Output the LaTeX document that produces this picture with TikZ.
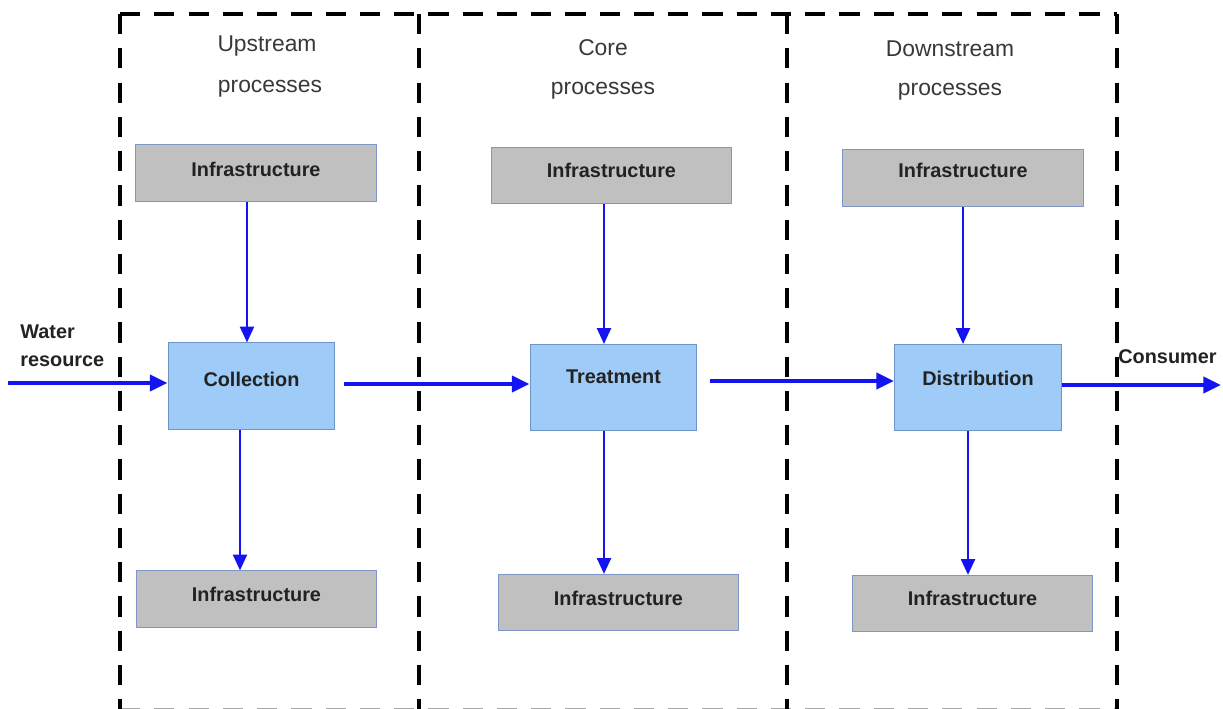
\documentclass[tikz,border=0pt]{standalone}
\usepackage{fontspec}
\setmainfont{Liberation Sans}
\usetikzlibrary{arrows.meta}
\definecolor{txt}{HTML}{222222}
\definecolor{infrafill}{HTML}{C0C0C0}
\definecolor{infraedge}{HTML}{7F97C8}
\definecolor{procfill}{HTML}{9FCBF8}
\definecolor{procedge}{HTML}{6F93C4}
\definecolor{arrowblue}{HTML}{1414F0}
\tikzset{
  frame/.style={line width=2.8pt, dash pattern=on 11.5pt off 8pt, draw=black},
  infra/.style={draw=infraedge, fill=infrafill, line width=0.6pt, font=\bfseries\fontsize{11.3}{13}\selectfont, text=txt, minimum width=137pt, minimum height=32pt, inner sep=0pt},
  proc/.style={draw=procedge, fill=procfill, line width=0.6pt, font=\bfseries\fontsize{11.3}{13}\selectfont, text=txt, minimum width=95pt, minimum height=49pt, inner sep=0pt},
  head/.style={font=\fontsize{13}{15}\selectfont, text=txt!90!white, align=center},
  side/.style={font=\bfseries\fontsize{11.3}{16}\selectfont, text=txt, align=left},
  thin arrow/.style={draw=arrowblue, line width=1.2pt, -{Triangle[length=9pt,width=8pt]}},
  thick arrow/.style={draw=arrowblue, line width=2.8pt, -{Triangle[length=10pt,width=9pt]}},
}
\begin{document}
\begin{tikzpicture}[x=0.02cm, y=-0.02cm]
\useasboundingbox (0,0) rectangle (1223,708);
% frames (each line drawn once)
\coordinate (tl) at (120,14);
\coordinate (tr) at (1117,14);
\coordinate (bl) at (120,710);
\coordinate (br) at (1117,710);
\draw[frame] (tl) -- (tr);
\draw[frame, draw=black!35] (bl) -- (br);
\draw[frame] (tl) -- (bl);
\draw[frame] (tr) -- (br);
\draw[frame] (419,14) -- (419,710);
\draw[frame] (787,14) -- (787,710);
% headings
\node[head] (h1a) at (267,46) {Upstream};
\node[head] (h1b) at (270,89) {processes};
\node[head] (h2a) at (603,48) {Core};
\node[head] (h2b) at (603,91) {processes};
\node[head] (h3a) at (950,49) {Downstream};
\node[head] (h3b) at (950,92) {processes};
% infrastructure boxes
\node[infra] (i1t) at (256,173) {\raisebox{4.5pt}{Infrastructure}};
\node[infra] (i2t) at (611.5,175.5) {\raisebox{6pt}{Infrastructure}};
\node[infra] (i3t) at (963,178) {\raisebox{9pt}{Infrastructure}};
\node[infra] (i1b) at (256.5,599) {\raisebox{5pt}{Infrastructure}};
\node[infra] (i2b) at (618.5,602.5) {\raisebox{5pt}{Infrastructure}};
\node[infra] (i3b) at (972.5,603.5) {\raisebox{6pt}{Infrastructure}};
% process boxes
\node[proc] (coll) at (251.5,386) {\raisebox{8pt}{Collection}};
\node[proc] (treat) at (613.5,387.5) {\raisebox{12pt}{Treatment}};
\node[proc] (dist) at (978,387.5) {\raisebox{10.5pt}{Distribution}};
% side labels
\node[side, anchor=north west, inner sep=0pt] (water) at (20,324) {Water\\resource};
\node[side, anchor=north west, inner sep=0pt] (cons) at (1118,349) {Consumer};
\coordinate (wstart) at (8,383);
\coordinate (cend) at (1221,385);
% vertical arrows
\draw[thin arrow] (i1t.south -| 247,0) -- (coll.north -| 247,0);
\draw[thin arrow] (i2t.south -| 604,0) -- (treat.north -| 604,0);
\draw[thin arrow] (i3t.south -| 963,0) -- (dist.north -| 963,0);
\draw[thin arrow] (coll.south -| 240,0) -- (i1b.north -| 240,0);
\draw[thin arrow] (treat.south -| 604,0) -- (i2b.north -| 604,0);
\draw[thin arrow] (dist.south -| 968,0) -- (i3b.north -| 968,0);
% horizontal arrows
\draw[thick arrow] (wstart) -- (coll.west |- wstart);
\draw[thick arrow] ([xshift=5pt]coll.east |- 0,384) -- (treat.west |- 0,384);
\draw[thick arrow] ([xshift=7pt]treat.east |- 0,381) -- (dist.west |- 0,381);
\draw[thick arrow] (dist.east |- cend) -- (cend);
\end{tikzpicture}
\end{document}
